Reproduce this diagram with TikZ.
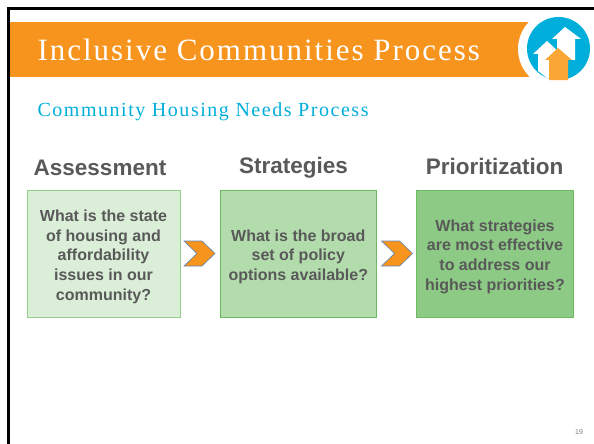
\documentclass[tikz,border=0pt]{standalone}
\usepackage{fontspec}
\setmainfont{Liberation Sans}
\newfontfamily\titlefont[LetterSpace=6.4]{Liberation Serif}
\newfontfamily\subtitlefont[LetterSpace=7.7]{Liberation Serif}
\usetikzlibrary{shapes.symbols}
\definecolor{band}{HTML}{F7941E}
\definecolor{sky}{HTML}{00AEDB}
\definecolor{lift}{HTML}{FAA634}
\definecolor{ink}{HTML}{595959}
\definecolor{edge}{HTML}{6CBB62}
\definecolor{rim}{HTML}{5E86B4}
\newcommand{\boxstrut}{\rule{0pt}{18pt}}
\tikzset{
    title/.style =   {anchor=base west,
                     text=white,
                     font=\titlefont\fontsize{31}{31}\selectfont},
    subtitle/.style = {anchor=base west,
                     text=sky,
                     font=\subtitlefont\fontsize{20}{20}\selectfont},
    heading/.style = {anchor=base,
                     text=ink,
                     font=\bfseries\fontsize{22.5}{24}\selectfont},
    stepbox/.style = {rectangle,
                     draw=edge,
                     text=ink,
                     line width=1pt,
                     minimum height=127pt,
                     inner sep=0pt,
                     align=center,
                     font=\bfseries\fontsize{16}{19.8}\selectfont},
    chevron/.style = {signal,
                     signal from=west,
                     signal to=east,
                     signal pointer angle=88,
                     fill=band,
                     draw=rim,
                     line width=0.6pt,
                     minimum width=31pt,
                     minimum height=25pt,
                     inner sep=0pt}
}
\begin{document}
\begin{tikzpicture}[x=1pt,y=-1pt]
    \useasboundingbox (0,0) rectangle (594,444);
    % band and logo
    \fill[band] (10,22) rectangle (540,77);
    \fill[white] (557,49) circle (39);
    \fill[sky] (558.5,48.5) circle (31.5);
    \fill[white] (565,27) -- (581,39) -- (575,39) -- (575,60) -- (557,60) -- (557,39) -- (552,39) -- cycle;
    \fill[white] (547,41) -- (561,54) -- (556,54) -- (556,78) -- (547,78) -- (538,71) -- (538,54) -- (533,54) -- cycle;
    \fill[lift] (558,48) -- (572,60) -- (568,60) -- (568,80) -- (549,80) -- (549,60) -- (545,60) -- cycle;
    % frame
    \fill[black] (7,7.5) rectangle (594,10);
    \fill[black] (7,7.5) rectangle (10,444);

    \node[title]    (Title)    at (34,60)   {Inclusive Communities Process};
    \node[subtitle] (Subtitle) at (34,116)  {Community Housing Needs Process};

    \node[heading]  (HeadA) at (100,175.3)  {Assessment};
    \node[heading]  (HeadS) at (293.5,173.5){Strategies};
    \node[heading]  (HeadP) at (494.5,174)  {Prioritization};

    \node[stepbox,fill=edge!25!white,draw=edge!75!white,minimum width=153pt] (BoxA) at (103.5,253.5)
        {\boxstrut What is the state\\of housing and\\affordability\\issues in our\\community?};
    \node[stepbox,fill=edge!52!white,minimum width=156.5pt] (BoxS) at (298.3,253.5)
        {\boxstrut What is the broad\\set of policy\\options available?};
    \node[stepbox,fill=edge!78!white,minimum width=156.5pt] (BoxP) at (495,253.5)
        {\boxstrut What strategies\\are most effective\\to address our\\highest priorities?};

    \node[chevron] (ArrowA) at (199.5,253.5) {};
    \node[chevron] (ArrowS) at (397,253.5)   {};

    \node[text=ink!80!white,font=\fontsize{7}{8}\selectfont] (Page) at (579,432) {19};
\end{tikzpicture}
\end{document}
